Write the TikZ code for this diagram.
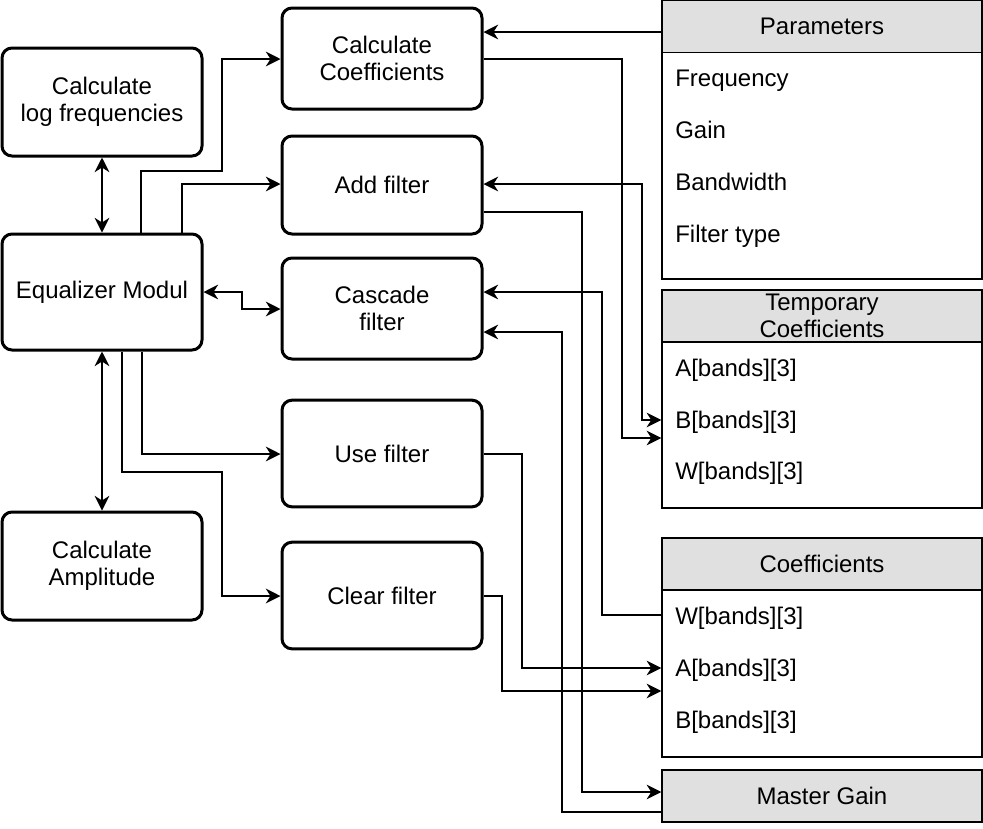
\documentclass[tikz,border=0pt]{standalone}
\usepackage{fontspec}
\setmainfont{Liberation Sans}
\usetikzlibrary{arrows.meta}
\definecolor{hdrgray}{HTML}{E0E0E0}
\begin{document}
\begin{tikzpicture}[x=0.75pt,y=-0.75pt,
  txt/.style={font=\fontsize{18}{20.25}\selectfont},
  box/.style={txt, draw, line width=2.25pt, rounded corners=7.5pt, minimum width=150pt, align=center, inner sep=0pt},
  tab/.style={draw, line width=1.1pt, minimum width=240pt, inner sep=0pt},
  hdr/.style={tab, txt, fill=hdrgray, align=center},
  tbody/.style={tab, fill=white},
  item/.style={txt, anchor=west, inner sep=0pt, text height=12.9pt, text depth=0pt},
  tip/.style={Stealth[length=11pt,width=11pt,inset=3.5pt]},
  conn/.style={line width=1.1pt, -{Stealth[length=11pt,width=11pt,inset=3.5pt]}},
  dconn/.style={line width=1.1pt, {Stealth[length=11pt,width=11pt,inset=3.5pt]}-{Stealth[length=11pt,width=11pt,inset=3.5pt]}},
]
\useasboundingbox (0,0) rectangle (983,829);

% left column
\node[box, minimum height=81pt] (logf) at (102,102) {Calculate\\log frequencies};
\node[box, minimum height=87pt] (eq) at (102,292) {Equalizer Modul};
\node[box, minimum height=81pt] (amp) at (102,566) {Calculate\\Amplitude};

% middle column
\node[box, minimum height=75.75pt] (cc) at (382,58.5) {Calculate\\Coefficients};
\node[box, minimum height=73.5pt] (add) at (382,185) {Add filter};
\node[box, minimum height=75.75pt] (casc) at (382,308.5) {Cascade\\filter};
\node[box, minimum height=80pt] (use) at (382,453.5) {Use filter};
\node[box, minimum height=80pt] (clear) at (382,595.5) {Clear filter};

% Parameters table
\node[tbody, minimum height=170.25pt] (pb) at (822,165.5) {};
\node[hdr, minimum height=39pt] (ph) at (822,26.5) {Parameters};
\node[item] (p1) at (675,78) {Frequency};
\node[item] (p2) at (675,130) {Gain};
\node[item] (p3) at (675,182) {Bandwidth};
\node[item] (p4) at (675,234) {Filter type};

% Temporary coefficients table
\node[tbody, minimum height=124.5pt] (tb) at (822,425) {};
\node[hdr, minimum height=39pt] (th) at (822,316) {Temporary\\Coefficients};
\node[item] (t1) at (675,368) {A[bands][3]};
\node[item] (t2) at (675,420) {B[bands][3]};
\node[item] (t3) at (675,471) {W[bands][3]};

% Coefficients table
\node[tbody, minimum height=125.25pt] (cb) at (822,673.5) {};
\node[hdr, minimum height=39pt] (ch) at (822,564) {Coefficients};
\node[item] (c1) at (675,616) {W[bands][3]};
\node[item] (c2) at (675,668) {A[bands][3]};
\node[item] (c3) at (675,720) {B[bands][3]};

% Master gain
\node[hdr, minimum height=39pt] (mg) at (822,796) {Master Gain};

% right-side connectors
\draw[conn] (ph.west |- 0,32) -- (cc.east |- 0,32);
\draw[conn] (cc.east |- 0,59) -- (622,59) -- (622,438) -- (tb.west |- 0,438);
\draw[dconn] (add.east |- 0,184) -- (642,184) -- (642,420) -- (tb.west |- 0,420);
\draw[conn] (add.east |- 0,212) -- (582,212) -- (582,792) -- (mg.west |- 0,792);
\draw[conn] (cb.west |- 0,615) -- (602,615) -- (602,292) -- (casc.east |- 0,292);
\draw[conn] (mg.west |- 0,812) -- (562,812) -- (562,332) -- (casc.east |- 0,332);
\draw[conn] (use.east |- 0,454) -- (522,454) -- (522,668) -- (cb.west |- 0,668);
\draw[conn] (clear.east |- 0,596) -- (502,596) -- (502,691) -- (cb.west |- 0,691);

% left-side connectors
\draw[dconn] (logf.south) -- (eq.north);
\draw[dconn] (eq.south) -- (amp.north);
\draw[conn] (eq.north -| 141,0) -- (141,171) -- (222,171) -- (222,59) -- (cc.west |- 0,59);
\draw[conn] (eq.north -| 182,0) -- (182,184) -- (add.west |- 0,184);
\draw[dconn] (eq.east |- 0,292) -- (242,292) -- (242,309) -- (casc.west |- 0,309);
\draw[conn] (eq.south -| 142,0) -- (142,454) -- (use.west |- 0,454);
\draw[conn] (eq.south -| 122,0) -- (122,472) -- (222,472) -- (222,596) -- (clear.west |- 0,596);
\end{tikzpicture}
\end{document}
